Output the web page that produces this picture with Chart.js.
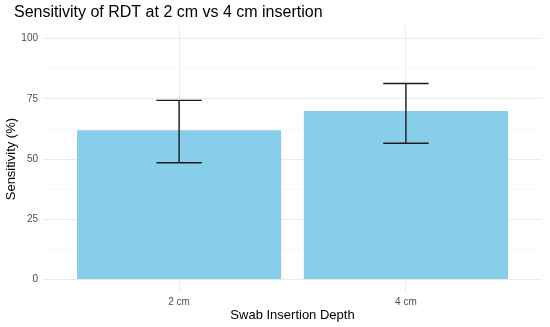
<!DOCTYPE html>
<html>
<head>
<meta charset="utf-8">
<script src="https://cdn.jsdelivr.net/npm/chart.js@4/dist/chart.umd.min.js"></script>
<style>
  html, body { margin: 0; padding: 0; background: #fff; }
  #wrap { width: 550px; height: 327px; }
</style>
</head>
<body>
<div id="wrap"><canvas id="chart"></canvas></div>
<script>
const categories = ['2 cm', '4 cm'];
const sensitivity = [62, 70];
const ciLow = [48.5, 56.6];
const ciHigh = [74.4, 81.4];
const yTicks = [0, 25, 50, 75, 100];
const yMinorTicks = [12.5, 37.5, 62.5, 87.5];

const FONT = '"Liberation Sans", Arial, Helvetica, sans-serif';

// error bars drawn through the chart's own scales
const errorBars = {
  id: 'errorBars',
  afterDatasetsDraw(chart) {
    const { ctx, scales: { x, y } } = chart;
    ctx.save();
    ctx.strokeStyle = '#1a1a1a';
    ctx.lineWidth = 1.4;
    categories.forEach((c, i) => {
      const cx = x.getPixelForValue(i + 1);
      const x0 = x.getPixelForValue(i + 1 - 0.1);
      const x1 = x.getPixelForValue(i + 1 + 0.1);
      const yl = y.getPixelForValue(ciLow[i]);
      const yh = y.getPixelForValue(ciHigh[i]);
      ctx.beginPath();
      ctx.moveTo(cx, yl); ctx.lineTo(cx, yh);
      ctx.moveTo(x0, yl); ctx.lineTo(x1, yl);
      ctx.moveTo(x0, yh); ctx.lineTo(x1, yh);
      ctx.stroke();
    });
    ctx.restore();
  }
};

// nudge the title in from the canvas edge
const titleShift = {
  id: 'titleShift',
  afterLayout(chart) {
    if (chart.titleBlock) {
      chart.titleBlock.left += 14;
      chart.titleBlock.right += 14;
    }
  }
};

new Chart(document.getElementById('chart'), {
  type: 'bar',
  data: {
    datasets: [{
      data: categories.map((c, i) => ({ x: i + 1, y: sensitivity[i] })),
      backgroundColor: '#87CEEB',
      borderWidth: 0,
      categoryPercentage: 0.9,
      barPercentage: 1.0
    }]
  },
  options: {
    responsive: true,
    maintainAspectRatio: false,
    animation: false,
    layout: { padding: { left: 0, right: 8, top: 0, bottom: 0 } },
    plugins: {
      legend: { display: false },
      tooltip: { enabled: false },
      title: {
        display: true,
        text: 'Sensitivity of RDT at 2 cm vs 4 cm insertion',
        align: 'start',
        color: '#000',
        font: { family: FONT, size: 16, weight: 'normal' },
        padding: { top: 3, bottom: 4 }
      }
    },
    scales: {
      x: {
        type: 'linear',
        min: 0.4,
        max: 2.6,
        offset: false,
        afterBuildTicks(scale) {
          scale.ticks = categories.map((c, i) => ({ value: i + 1 }));
        },
        afterFit(scale) { scale.height = 35; },
        border: { display: false },
        grid: { color: '#ebebeb', lineWidth: 1, drawTicks: false, offset: false },
        ticks: {
          color: '#4d4d4d',
          font: { family: FONT, size: 10 },
          padding: 4,
          maxRotation: 0,
          callback: (v) => categories[Math.round(v) - 1] ?? ''
        },
        title: {
          display: true,
          text: 'Swab Insertion Depth',
          color: '#000',
          font: { family: FONT, size: 13 },
          padding: { top: 0, bottom: 4 }
        }
      },
      y: {
        min: -5.2,
        max: 105.2,
        afterBuildTicks(scale) {
          scale.ticks = [...yTicks, ...yMinorTicks].sort((a, b) => a - b).map((v) => ({ value: v }));
        },
        afterFit(scale) { scale.width = 43; },
        border: { display: false },
        grid: {
          drawTicks: false,
          color: (c) => (yTicks.includes(c.tick.value) ? '#ebebeb' : '#f3f3f3'),
          lineWidth: (c) => (yTicks.includes(c.tick.value) ? 1 : 0.7)
        },
        ticks: {
          color: '#4d4d4d',
          font: { family: FONT, size: 10 },
          padding: 5,
          autoSkip: false,
          callback: (v) => (yTicks.includes(v) ? String(v) : '')
        },
        title: {
          display: true,
          text: 'Sensitivity (%)',
          color: '#000',
          font: { family: FONT, size: 13 },
          padding: { top: 4, bottom: 0 }
        }
      }
    }
  },
  plugins: [errorBars, titleShift]
});
</script>
</body>
</html>
